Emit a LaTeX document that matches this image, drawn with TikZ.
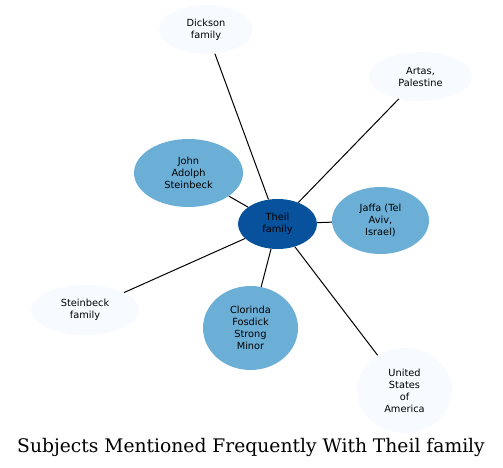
\documentclass[tikz,border=0pt]{standalone}
\usepackage{fontspec}
\newfontfamily\nodefont{DejaVu Sans}
\newfontfamily\titlefont{DejaVu Serif}
\usetikzlibrary{shapes.geometric}
\definecolor{darkblue}{HTML}{08519C}
\definecolor{midblue}{HTML}{6BAED6}
\definecolor{paleblue}{HTML}{F7FBFF}
\tikzset{
  ent/.style={ellipse, inner sep=0pt, align=center, font=\nodefont\fontsize{9.8}{12}\selectfont, text=black},
  hub/.style={ent, fill=darkblue, minimum width=79pt, minimum height=50pt},
  near/.style={ent, fill=midblue},
  far/.style={ent, fill=paleblue},
  link/.style={draw=black, line width=1pt}
}
\begin{document}
\begin{tikzpicture}[x=1pt,y=-1pt]
\useasboundingbox (0,0) rectangle (503,468);
\node[hub] (theil) at (277.5,224) {Theil\\family};
\node[near, minimum width=109pt, minimum height=68pt] (john) at (188.5,173) {John\\Adolph\\Steinbeck};
\node[near, minimum width=97pt, minimum height=67pt] (jaffa) at (380.5,220.5) {Jaffa (Tel\\Aviv,\\Israel)};
\node[near, minimum width=95pt, minimum height=84pt] (clorinda) at (250.5,328) {Clorinda\\Fosdick\\Strong\\Minor};
\node[far, minimum width=94pt, minimum height=49pt] (dickson) at (206,29.5) {Dickson\\family};
\node[far, minimum width=103pt, minimum height=49pt] (artas) at (420.5,76.5) {Artas,\\Palestine};
\node[far, minimum width=108pt, minimum height=50pt] (steinfam) at (85,310) {Steinbeck\\family};
\node[far, minimum width=95pt, minimum height=85pt] (usa) at (404.5,390.5) {United\\States\\of\\America};
\foreach \n in {john,jaffa,clorinda,dickson,artas,steinfam,usa}
  \draw[link] (theil) -- (\n);
\node[font=\titlefont\fontsize{18.7}{22}\selectfont, anchor=base, inner sep=0pt] (title) at (251,452) {Subjects Mentioned Frequently With Theil family};
\end{tikzpicture}
\end{document}
